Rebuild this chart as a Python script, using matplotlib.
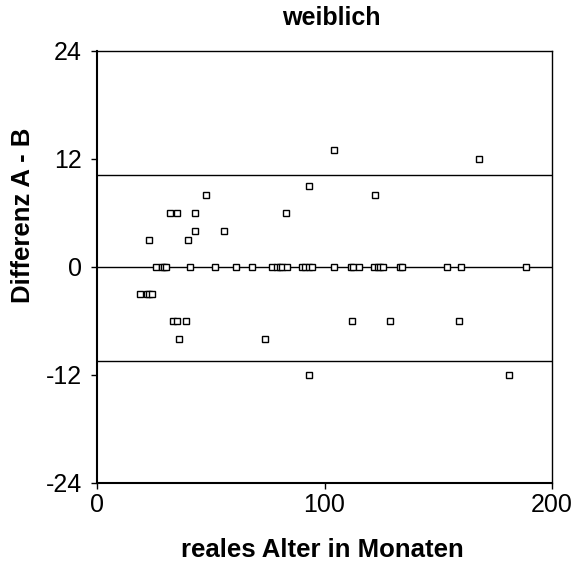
import matplotlib
matplotlib.use("Agg")
import matplotlib.pyplot as plt

plt.rcParams['font.family'] = ['Liberation Sans', 'DejaVu Sans']
plt.rcParams['axes.unicode_minus'] = False

age_pos = [23, 32, 35, 43, 48, 43, 40, 56, 83, 93, 104, 168, 122]
diff_pos = [3, 6, 6, 6, 8, 4, 3, 4, 6, 9, 13, 12, 8]

age_zero = [26, 28.5, 29.5, 30.5, 41, 52, 61, 68, 77, 79, 80.5, 81.5, 83.5,
            90, 91.5, 93, 94.5, 104, 111.5, 112.7, 115.3, 121.8, 123.3,
            124.4, 125.9, 133, 134, 154, 160, 188.5]
diff_zero = [0] * len(age_zero)

age_neg = [19, 22, 23, 24, 33.5, 35, 39, 36, 74, 93, 112, 129, 159, 181]
diff_neg = [-3, -3, -3, -3, -6, -6, -6, -8, -8, -12, -6, -6, -6, -12]

mean_line = 0
upper_line = 10.2
lower_line = -10.4

ages = age_pos + age_zero + age_neg
diffs = diff_pos + diff_zero + diff_neg

W, H = 583, 563
fig = plt.figure(figsize=(W / 100, H / 100), dpi=100)
ax = fig.add_axes([97 / W, 1 - 483 / H, 455 / W, 432 / H])

for yv in (upper_line, mean_line, lower_line):
    ax.axhline(yv, color='black', linewidth=1.0, zorder=1)

ax.plot(ages, diffs, linestyle='none', marker='s', markersize=5,
        markerfacecolor='white', markeredgecolor='black',
        markeredgewidth=1.0, zorder=3)

ax.set_xlim(0, 200)
ax.set_ylim(-24, 24)
ax.set_xticks([0, 100, 200])
ax.set_yticks([-24, -12, 0, 12, 24])
ax.tick_params(axis='both', labelsize=18, direction='out', length=4,
               width=1.0)
ax.tick_params(axis='x', pad=3)
ax.tick_params(axis='y', pad=7)

for side in ('left', 'bottom'):
    ax.spines[side].set_linewidth(1.5)
for side in ('top', 'right'):
    ax.spines[side].set_linewidth(1.0)

fig.text(331 / W, 1 - 18 / H, 'weiblich', fontsize=18, fontweight='bold',
         ha='center', va='center')
fig.text(322 / W, 1 - 550 / H, 'reales Alter in Monaten', fontsize=18.5,
         fontweight='bold', ha='center', va='center')
fig.text(23 / W, 1 - 215 / H, 'Differenz A - B', fontsize=18.5,
         fontweight='bold', ha='center', va='center', rotation=90)

fig.savefig('out.png', dpi=100, facecolor='white')
